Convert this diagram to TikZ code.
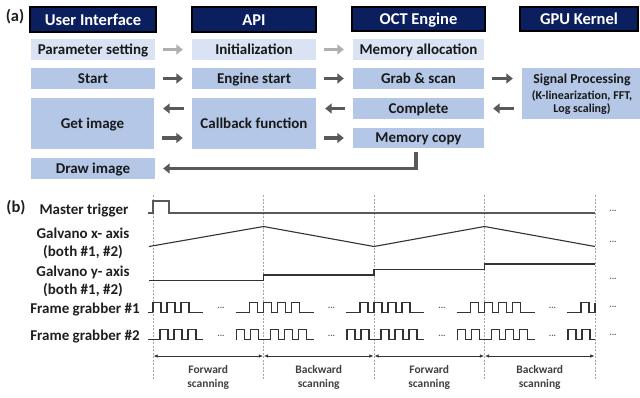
\documentclass[tikz,border=0pt]{standalone}
\usepackage{fontspec}
\setmainfont{Carlito}
\usetikzlibrary{arrows.meta}
\definecolor{navy}{HTML}{0B1F5E}
\definecolor{lblue}{HTML}{DAE3F3}
\definecolor{mblue}{HTML}{B4C7E7}
\definecolor{agray}{HTML}{595959}
\definecolor{lgray}{HTML}{AFAFAF}
\definecolor{sigc}{HTML}{333333}
\begin{document}
\begin{tikzpicture}[x=1pt,y=-1pt,
  hdr/.style={draw=black, line width=1.2pt, fill=navy, text=white, font=\fontsize{16.5}{18}\selectfont\bfseries, inner sep=0pt, minimum height=25pt, text height=11pt, text depth=0pt},
  box/.style={fill=mblue, font=\fontsize{15}{17}\selectfont\bfseries, text=black!90, inner sep=0pt, minimum height=21pt, text height=9.7pt, text depth=0pt},
  lbox/.style={box, fill=lblue},
  arr/.style={line width=3.5pt, agray, -{Triangle[length=6.5pt,width=10pt]}, shorten <=8pt, shorten >=9pt},
  larr/.style={arr, lgray},
  lbl/.style={font=\fontsize{15}{18.5}\selectfont\bfseries, text=black!88, align=center, inner sep=0pt},
  tag/.style={font=\fontsize{16.5}{18}\selectfont\bfseries, text=black!88, inner sep=0pt},
  sig/.style={line width=1.1pt, sigc, line join=miter},
  vdash/.style={gray!70, line width=0.6pt, dash pattern=on 2pt off 1.5pt},
  dbl/.style={line width=0.6pt, black!80, {Latex[length=4pt,width=3.5pt]}-{Latex[length=4pt,width=3.5pt]}, shorten <=0.6pt, shorten >=0.6pt},
  scan/.style={font=\fontsize{11.5}{14}\selectfont\bfseries, text=black!75, align=center, inner sep=0pt},
  dots/.style={font=\fontsize{9}{9}\selectfont\bfseries, text=black!65, inner sep=0pt}
]
\useasboundingbox (0,0) rectangle (640,397);

% ---------------- panel (a)
\node[tag] (ta) at (15,17) {(a)};
\node[hdr, minimum width=126pt] (hui) at (93,19.5) {User Interface};
\node[hdr, minimum width=124pt] (hapi) at (254,19.5) {API};
\node[hdr, minimum width=133pt, minimum height=24pt] (hoct) at (418.5,19) {OCT Engine};
\node[hdr, minimum width=118pt, minimum height=24pt] (hgpu) at (579,19) {GPU Kernel};

\node[lbox, minimum width=124pt] (ps) at (93,49.5) {Parameter setting};
\node[lbox, minimum width=124pt] (ini) at (254,49.5) {Initialization};
\node[lbox, minimum width=131pt] (ma) at (418.5,49.5) {Memory allocation};

\node[box, minimum width=124pt] (st) at (93,78.5) {Start};
\node[box, minimum width=124pt] (es) at (254,78.5) {Engine start};
\node[box, minimum width=131pt] (gs) at (418.5,78.5) {Grab \& scan};
\node[box, minimum width=118pt, minimum height=51pt] (sp) at (581,93.5) {};
\node[align=center, inner sep=0pt, font=\bfseries, text=black!90] (spt) at (582,94)
  {\fontsize{13.7}{16}\selectfont Signal Processing\\[4pt]\fontsize{12}{14}\selectfont (K-linearization, FFT,\\[1.5pt]\fontsize{12}{14}\selectfont Log scaling)};

\node[box, minimum width=123pt, minimum height=51pt] (gi) at (92.5,123.5) {Get image};
\node[box, minimum width=124pt, minimum height=51pt] (cb) at (254,123.5) {Callback function};
\node[box, minimum width=131pt] (cpl) at (418.5,108.5) {Complete};
\node[box, minimum width=131pt, minimum height=20pt] (mc) at (418.5,138) {Memory copy};
\node[box, minimum width=124pt] (di) at (93,168.5) {Draw image};

\draw[larr] (ps) -- (ini);
\draw[larr] (ini) -- (ma);
\draw[arr] (st) -- (es);
\draw[arr] (es) -- (gs);
\draw[arr] (gs.east) -- (gs.east -| sp.west);
\draw[arr] (sp.west |- cpl) -- (cpl.east);
\draw[arr] (cpl.west) -- (cpl.west -| cb.east);
\draw[arr] (cb.west |- cpl) -- (gi.east |- cpl);
\draw[arr] (gi.east |- mc) -- (cb.west |- mc);
\draw[arr] (cb.east |- mc) -- (mc.west);
\draw[arr, shorten <=4pt, shorten >=8pt] ([xshift=-2.5pt]mc.south) |- (di.east);

% ---------------- panel (b)
\node[tag] (tb) at (16,208) {(b)};
\node[lbl] (lmt) at (84,211) {Master trigger};
\node[lbl] (lgx) at (83,243.5) {Galvano x- axis\\(both \#1, \#2)};
\node[lbl] (lgy) at (83,281.5) {Galvano y- axis\\(both \#1, \#2)};
\node[lbl] (lf1) at (85,310) {Frame grabber \#1};
\node[lbl] (lf2) at (85,337) {Frame grabber \#2};

\foreach \x [count=\i from 0] in {153,263.5,374,484.5,595} {
  \draw[vdash] (\x,195) -- (\x,380);
  \coordinate (a\i) at (\x,356);
}
\draw[dbl] (a0) -- (a1);
\draw[dbl] (a1) -- (a2);
\draw[dbl] (a2) -- (a3);
\draw[dbl] (a3) -- (a4);
\node[scan] (s1) at (208.25,377) {Forward\\scanning};
\node[scan] (s2) at (318.75,377) {Backward\\scanning};
\node[scan] (s3) at (429.25,377) {Forward\\scanning};
\node[scan] (s4) at (539.75,377) {Backward\\scanning};

% master trigger
\draw[sig, line width=1.4pt, agray] (148,213) -- (153,213) -- (153,201) -- (169,201) -- (169,213) -- (595,213);
% galvano x
\draw[sig] (149,246.5) -- (263.5,226.5) -- (374,246.5) -- (484.5,226.5) -- (595,246.5);
% galvano y
\draw[sig] (149,280.5) -- (263.5,280.5) -- (263.5,275) -- (374,275) -- (374,269.5) -- (484.5,269.5) -- (484.5,264) -- (595,264);

% frame grabbers
\draw[sig] (148,312.3) -- (153,312.3);
\draw[sig] (148,339.5) -- (153,339.5);
\foreach \xa/\xb in {153/263.5, 263.5/374, 374/484.5, 484.5/595} {
  \draw[sig] (\xa,312.3) -- ++(0,-9.8) -- ++(8,0) -- ++(0,9.8) -- ++(6,0) -- ++(0,-9.8) -- ++(8,0) -- ++(0,9.8) -- ++(6,0) -- ++(0,-9.8) -- ++(8,0) -- ++(0,9.8) -- ++(14,0);
  \draw[sig] (\xb-28,312.3) -- ++(14,0) -- ++(0,-9.8) -- ++(8,0) -- ++(0,9.8) -- ++(6,0) -- ++(0,-9.8);
  \draw[sig] (\xa,339.5) -- ++(7,0) -- ++(0,-10) -- ++(8,0) -- ++(0,10) -- ++(6,0) -- ++(0,-10) -- ++(8,0) -- ++(0,10) -- ++(6,0) -- ++(0,-10) -- ++(8,0) -- ++(0,10) -- ++(7,0);
  \draw[sig] (\xb-28,339.5) -- ++(1,0) -- ++(0,-10) -- ++(8,0) -- ++(0,10) -- ++(6,0) -- ++(0,-10) -- ++(8,0) -- ++(0,10) -- ++(5,0);
  \node[dots] at (\xa+68,308) {...};
  \node[dots] at (\xa+68,336) {...};
}
\node[dots] (e1) at (613,211) {...};
\node[dots] (e2) at (613,242) {...};
\node[dots] (e3) at (613,279) {...};
\node[dots] (e4) at (613,307) {...};
\node[dots] (e5) at (613,335) {...};
\end{tikzpicture}
\end{document}
